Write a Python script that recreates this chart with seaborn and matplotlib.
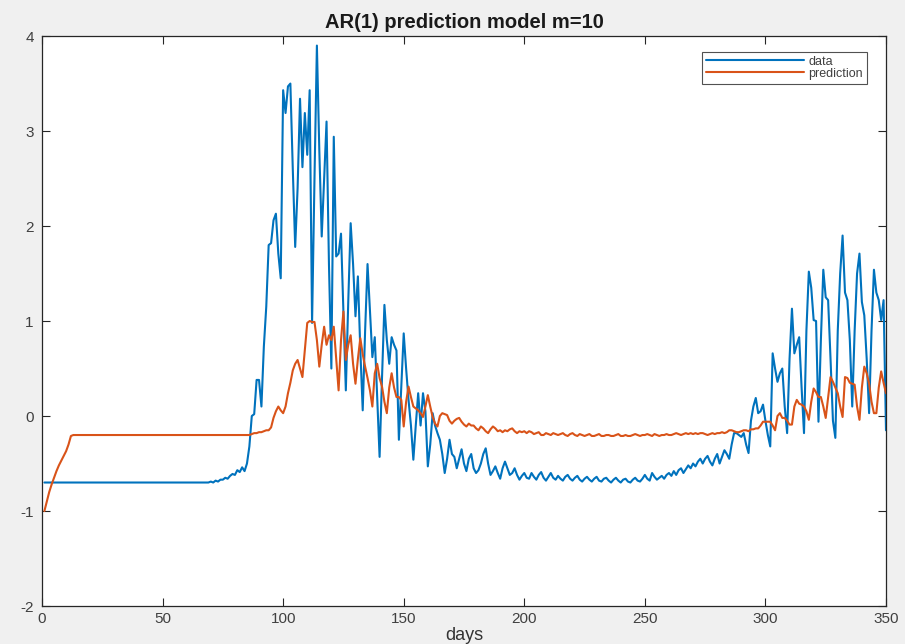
import numpy as np
import pandas as pd
import matplotlib
matplotlib.use("Agg")
import matplotlib.pyplot as plt
import seaborn as sns

title = "AR(1) prediction model m=10"
x_label = "days"
series_names = ["data", "prediction"]
x_ticks = [0, 50, 100, 150, 200, 250, 300, 350]
y_ticks = [-2, -1, 0, 1, 2, 3, 4]

data_values = [
    -0.70, -0.70, -0.70, -0.70, -0.70, -0.70, -0.70, -0.70, -0.70, -0.70,
    -0.70, -0.70, -0.70, -0.70, -0.70, -0.70, -0.70, -0.70, -0.70, -0.70,
    -0.70, -0.70, -0.70, -0.70, -0.70, -0.70, -0.70, -0.70, -0.70, -0.70,
    -0.70, -0.70, -0.70, -0.70, -0.70, -0.70, -0.70, -0.70, -0.70, -0.70,
    -0.70, -0.70, -0.70, -0.70, -0.70, -0.70, -0.70, -0.70, -0.70, -0.70,
    -0.70, -0.70, -0.70, -0.70, -0.70, -0.70, -0.70, -0.70, -0.70, -0.70,
    -0.70, -0.70, -0.70, -0.70, -0.70, -0.70, -0.70, -0.70, -0.70, -0.69,
    -0.70, -0.68, -0.69, -0.67, -0.67, -0.65, -0.66, -0.63, -0.61, -0.62,
    -0.57, -0.59, -0.54, -0.58, -0.50, -0.32, 0.00, 0.02, 0.38, 0.38,
    0.10, 0.73, 1.15, 1.80, 1.82, 2.06, 2.13, 1.71, 1.45, 3.43,
    3.19, 3.47, 3.50, 2.60, 1.78, 2.40, 3.34, 2.62, 3.19, 2.75,
    3.43, 0.98, 2.50, 3.90, 2.80, 1.89, 2.50, 3.10, 1.60, 0.50,
    2.94, 1.68, 1.71, 1.92, 1.10, 0.27, 1.20, 2.03, 1.60, 1.05,
    1.47, 0.70, 0.06, 0.90, 1.60, 1.10, 0.62, 0.83, 0.20, -0.43,
    0.40, 1.17, 0.80, 0.55, 0.83, 0.75, 0.69, -0.25, 0.30, 0.87,
    0.50, 0.17, -0.10, -0.46, -0.10, 0.24, -0.10, 0.24, 0.05, -0.53,
    -0.30, 0.03, -0.10, -0.18, -0.25, -0.40, -0.60, -0.45, -0.25, -0.40,
    -0.43, -0.55, -0.45, -0.35, -0.50, -0.58, -0.45, -0.40, -0.55, -0.60,
    -0.57, -0.50, -0.40, -0.34, -0.50, -0.62, -0.58, -0.53, -0.60, -0.66,
    -0.55, -0.48, -0.55, -0.62, -0.60, -0.55, -0.62, -0.67, -0.63, -0.60,
    -0.65, -0.66, -0.60, -0.64, -0.67, -0.62, -0.59, -0.65, -0.68, -0.64,
    -0.60, -0.65, -0.67, -0.63, -0.66, -0.68, -0.64, -0.62, -0.66, -0.68,
    -0.65, -0.63, -0.67, -0.69, -0.66, -0.64, -0.67, -0.69, -0.66, -0.64,
    -0.68, -0.69, -0.66, -0.65, -0.68, -0.70, -0.67, -0.65, -0.68, -0.70,
    -0.67, -0.66, -0.69, -0.70, -0.67, -0.65, -0.68, -0.69, -0.66, -0.62,
    -0.66, -0.68, -0.60, -0.64, -0.67, -0.65, -0.63, -0.66, -0.62, -0.60,
    -0.63, -0.58, -0.62, -0.57, -0.55, -0.60, -0.56, -0.52, -0.55, -0.50,
    -0.53, -0.48, -0.45, -0.50, -0.45, -0.42, -0.48, -0.52, -0.45, -0.40,
    -0.50, -0.43, -0.36, -0.40, -0.45, -0.30, -0.18, -0.18, -0.20, -0.22,
    -0.18, -0.30, -0.39, -0.05, 0.10, 0.19, 0.03, 0.05, 0.12, -0.05,
    -0.20, -0.32, 0.66, 0.50, 0.36, 0.45, 0.50, 0.10, -0.18, 0.60,
    1.13, 0.66, 0.75, 0.83, 0.30, -0.18, 0.90, 1.52, 1.35, 1.01,
    1.00, -0.06, 0.80, 1.54, 1.25, 1.22, 0.60, -0.05, -0.23, 0.90,
    1.50, 1.90, 1.30, 1.22, 0.80, 0.10, 0.90, 1.50, 1.71, 1.20,
    1.06, 0.60, 0.03, 0.90, 1.54, 1.30, 1.22, 1.01, 1.22, -0.15,
]

prediction_values = [
    -1.00, -0.90, -0.80, -0.72, -0.65, -0.58, -0.52, -0.47, -0.42, -0.37,
    -0.30, -0.21, -0.20, -0.20, -0.20, -0.20, -0.20, -0.20, -0.20, -0.20,
    -0.20, -0.20, -0.20, -0.20, -0.20, -0.20, -0.20, -0.20, -0.20, -0.20,
    -0.20, -0.20, -0.20, -0.20, -0.20, -0.20, -0.20, -0.20, -0.20, -0.20,
    -0.20, -0.20, -0.20, -0.20, -0.20, -0.20, -0.20, -0.20, -0.20, -0.20,
    -0.20, -0.20, -0.20, -0.20, -0.20, -0.20, -0.20, -0.20, -0.20, -0.20,
    -0.20, -0.20, -0.20, -0.20, -0.20, -0.20, -0.20, -0.20, -0.20, -0.20,
    -0.20, -0.20, -0.20, -0.20, -0.20, -0.20, -0.20, -0.20, -0.20, -0.20,
    -0.20, -0.20, -0.20, -0.20, -0.20, -0.20, -0.19, -0.18, -0.18, -0.17,
    -0.17, -0.16, -0.15, -0.15, -0.12, -0.02, 0.05, 0.10, 0.06, 0.03,
    0.10, 0.24, 0.35, 0.48, 0.55, 0.59, 0.50, 0.41, 0.70, 0.98,
    1.00, 0.99, 0.99, 0.80, 0.52, 0.75, 0.94, 0.75, 0.85, 0.80,
    0.94, 0.60, 0.27, 0.80, 1.10, 0.59, 0.75, 0.85, 0.55, 0.34,
    0.60, 0.82, 0.65, 0.52, 0.40, 0.27, 0.10, 0.45, 0.55, 0.40,
    0.31, 0.15, 0.03, 0.30, 0.45, 0.30, 0.20, 0.20, 0.17, -0.11,
    0.15, 0.31, 0.20, 0.10, 0.08, 0.06, 0.03, -0.01, 0.10, 0.22,
    0.10, -0.01, -0.08, -0.11, 0.00, 0.03, 0.02, 0.01, -0.05, -0.08,
    -0.05, -0.03, -0.02, -0.06, -0.09, -0.11, -0.08, -0.10, -0.10, -0.13,
    -0.15, -0.11, -0.13, -0.16, -0.18, -0.14, -0.11, -0.13, -0.16, -0.15,
    -0.17, -0.15, -0.16, -0.14, -0.13, -0.16, -0.18, -0.16, -0.17, -0.16,
    -0.18, -0.16, -0.17, -0.19, -0.18, -0.17, -0.20, -0.20, -0.18, -0.19,
    -0.20, -0.18, -0.19, -0.20, -0.19, -0.18, -0.20, -0.21, -0.19, -0.18,
    -0.20, -0.21, -0.19, -0.20, -0.21, -0.20, -0.19, -0.21, -0.21, -0.20,
    -0.19, -0.21, -0.21, -0.20, -0.20, -0.21, -0.21, -0.20, -0.19, -0.21,
    -0.21, -0.20, -0.21, -0.21, -0.20, -0.19, -0.20, -0.21, -0.20, -0.20,
    -0.19, -0.20, -0.21, -0.19, -0.20, -0.21, -0.20, -0.20, -0.19, -0.20,
    -0.20, -0.19, -0.18, -0.19, -0.20, -0.19, -0.18, -0.19, -0.18, -0.19,
    -0.18, -0.19, -0.18, -0.18, -0.19, -0.20, -0.19, -0.18, -0.19, -0.18,
    -0.18, -0.17, -0.18, -0.17, -0.15, -0.15, -0.16, -0.17, -0.17, -0.16,
    -0.15, -0.15, -0.16, -0.14, -0.14, -0.13, -0.13, -0.10, -0.06, -0.06,
    -0.06, -0.06, -0.10, -0.15, 0.00, 0.03, -0.02, -0.02, -0.05, -0.09,
    -0.09, 0.10, 0.17, 0.13, 0.12, 0.10, 0.05, -0.04, 0.15, 0.29,
    0.25, 0.20, 0.20, 0.10, -0.02, 0.20, 0.41, 0.36, 0.30, 0.24,
    0.10, -0.01, 0.41, 0.40, 0.35, 0.34, 0.33, 0.10, -0.04, 0.30,
    0.52, 0.45, 0.34, 0.15, 0.03, 0.03, 0.30, 0.47, 0.35, 0.24,
]

frames = []
for name, vals in zip(series_names, [data_values, prediction_values]):
    frames.append(pd.DataFrame({"day": np.arange(1, len(vals) + 1),
                                "value": vals, "series": name}))
df = pd.concat(frames, ignore_index=True)

sns.set_style("white")
plt.rcParams["font.family"] = ["Liberation Sans", "DejaVu Sans"]

fig = plt.figure(figsize=(9.05, 6.44), dpi=100, facecolor="#f0f0f0")
ax = fig.add_axes([0.0464, 0.059, 0.9326, 0.885])
ax.set_facecolor("white")

palette = {"data": "#0072BD", "prediction": "#D95319"}
sns.lineplot(data=df, x="day", y="value", hue="series", palette=palette,
             linewidth=1.5, ax=ax, legend=True)

ax.set_xlim(0, 350)
ax.set_ylim(-2, 4)
ax.set_xticks(x_ticks)
ax.set_yticks(y_ticks)
ax.set_xticklabels([str(t) for t in x_ticks])
ax.set_yticklabels([str(t) for t in y_ticks])
ax.tick_params(direction="in", length=6, width=0.8, colors="#262626",
               labelcolor="#404040", labelsize=11, top=True, right=True,
               bottom=True, left=True)
ax.tick_params(axis="x", pad=4)
ax.tick_params(axis="y", pad=6)
for s in ax.spines.values():
    s.set_color("#262626")
    s.set_linewidth(0.9)
    s.set_visible(True)

ax.set_xlabel(x_label, fontsize=13, color="#333333", labelpad=1)
ax.set_ylabel("")
ax.set_title(title, fontsize=14.5, fontweight="bold", color="#1a1a1a", pad=6)

leg = ax.legend(loc="upper right", bbox_to_anchor=(0.9775, 0.972),
                fontsize=9, frameon=True, fancybox=False, borderpad=0.3,
                labelspacing=0.0, handlelength=7.8, handletextpad=0.4,
                borderaxespad=0)
leg.get_frame().set_edgecolor("#262626")
leg.get_frame().set_linewidth(0.8)
for t in leg.get_texts():
    t.set_color("#404040")

fig.savefig("out.png", dpi=100, facecolor=fig.get_facecolor())
